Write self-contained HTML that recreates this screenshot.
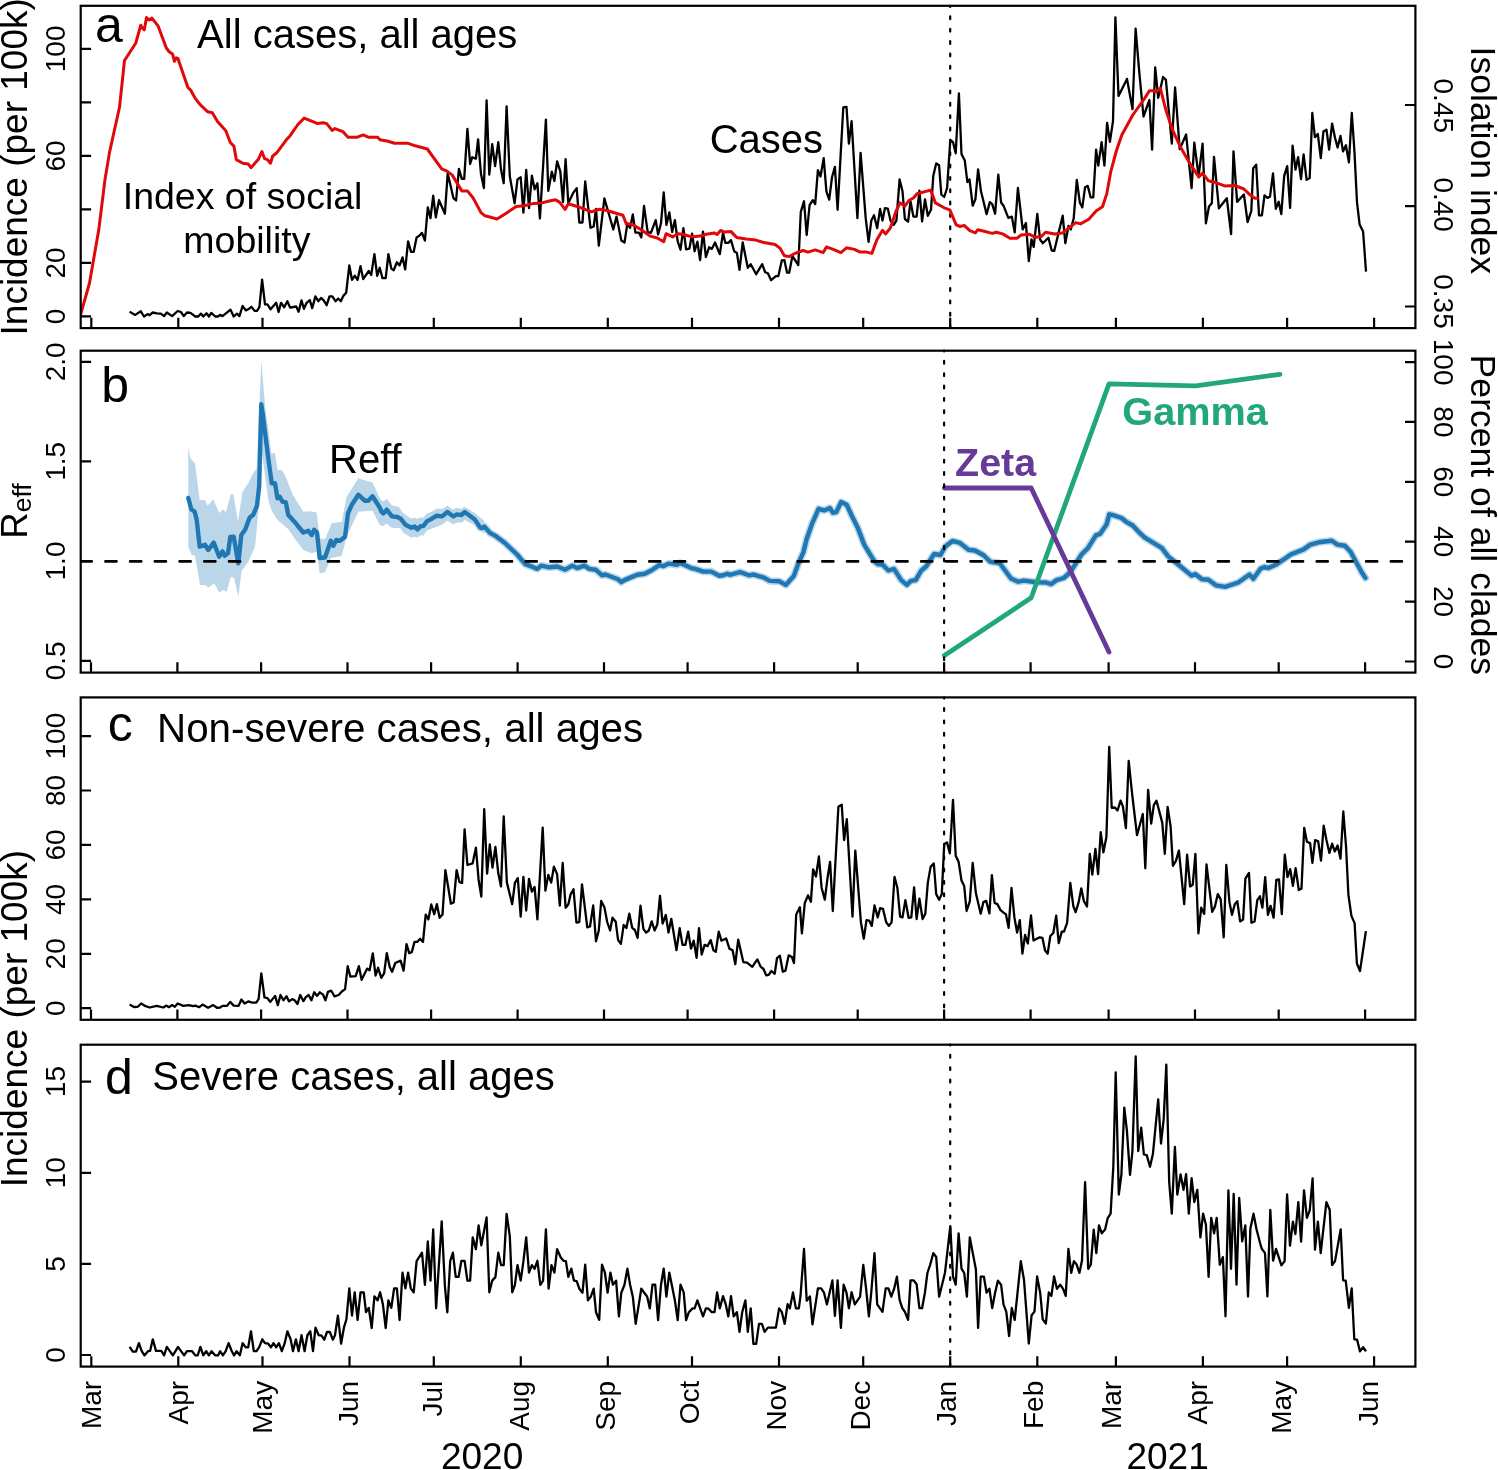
<!DOCTYPE html>
<html><head><meta charset="utf-8"><style>
html,body{margin:0;padding:0;background:#fff;}
svg{display:block;will-change:transform;}
text{font-family:"Liberation Sans", sans-serif;}
</style></head><body>
<svg width="1498" height="1470" viewBox="0 0 1498 1470" font-family='"Liberation Sans", sans-serif'>
<rect width="1498" height="1470" fill="#fff"/>
<defs>
<clipPath id="clipa"><rect x="80.7" y="5.8" width="1334.7" height="322.3"/></clipPath>
<clipPath id="clipb"><rect x="80.7" y="350.7" width="1334.7" height="321.90000000000003"/></clipPath>
<clipPath id="clipc"><rect x="80.7" y="697.4" width="1334.7" height="322.4"/></clipPath>
<clipPath id="clipd"><rect x="80.7" y="1044.7" width="1334.7" height="321.89999999999986"/></clipPath>
</defs>
<g clip-path="url(#clipb)">
<path d="M188.3,445.8 L190.3,458.3 L195.0,463.3 L199.7,500.0 L205.0,500.0 L207.5,505.8 L213.3,499.2 L219.2,513.0 L223.3,509.2 L225.8,512.5 L230.8,494.2 L233.3,494.2 L238.0,521.7 L242.5,491.7 L248.3,483.3 L251.7,475.8 L256.7,468.3 L261.3,360.0 L265.0,405.0 L271.3,453.3 L275.0,453.3 L277.5,470.0 L281.7,470.0 L285.0,475.0 L292.5,494.2 L303.3,511.7 L310.0,511.3 L316.7,512.5 L319.7,538.3 L325.0,539.2 L331.7,523.3 L341.7,521.7 L346.7,496.7 L358.3,478.3 L372.5,482.5 L380.0,498.7 L383.3,501.4 L386.7,498.7 L392.0,505.4 L398.7,506.7 L402.7,512.7 L411.4,518.7 L414.7,517.7 L417.4,519.1 L420.1,517.4 L423.4,517.4 L426.7,513.4 L432.1,511.4 L436.7,508.7 L442.7,508.7 L447.4,505.7 L452.8,509.4 L456.1,508.0 L461.4,508.7 L464.8,506.7 L474.8,513.0 L480.1,517.4 L484.0,520.5 L484.0,534.0 L480.1,530.1 L474.8,525.4 L464.8,520.1 L462.1,522.4 L456.8,522.4 L453.4,524.4 L447.4,520.7 L442.1,524.7 L433.4,528.1 L426.7,530.7 L423.4,535.4 L420.1,535.4 L417.4,537.7 L414.7,536.7 L411.4,537.7 L403.4,532.7 L400.0,528.1 L392.0,528.1 L386.7,523.4 L383.3,526.1 L380.0,525.4 L372.5,510.8 L358.3,511.7 L346.7,536.7 L341.7,555.8 L330.8,558.3 L325.0,572.5 L319.7,573.3 L316.7,551.7 L311.7,553.3 L303.3,550.0 L295.8,540.0 L288.3,529.2 L277.5,520.0 L271.7,510.8 L268.3,500.0 L263.3,463.3 L261.3,448.3 L259.2,503.3 L255.0,546.7 L248.3,561.7 L241.7,570.8 L238.3,596.7 L234.2,578.3 L230.8,576.7 L226.7,591.7 L223.3,590.0 L219.2,592.5 L214.2,583.3 L208.3,587.5 L205.0,585.0 L200.0,585.0 L195.0,555.8 L191.7,555.0 L188.3,546.7Z" fill="#bcd6e9" stroke="none"/>
<path d="M474.8,519.4 L480.1,527.4 L481.9,528.1 L484.3,526.5 L489.9,532.9 L496.3,536.4 L504.3,542.5 L517.1,554.5 L525.2,564.1 L531.6,566.5 L537.2,568.9 L541.2,565.7 L549.2,567.3 L557.2,566.5 L565.2,569.7 L572.4,565.7 L577.2,568.1 L584.4,565.7 L589.2,568.9 L595.6,569.7 L602.1,575.3 L605.3,574.5 L618.1,579.3 L621.3,582.2 L624.5,580.1 L630.9,577.4 L637.3,574.8 L644.8,573.7 L651.2,570.5 L659.2,565.2 L663.2,566.2 L668.8,563.6 L676.8,564.9 L680.1,563.0 L691.3,568.1 L695.3,568.9 L703.3,571.6 L711.3,571.6 L719.3,575.8 L723.3,575.3 L727.3,573.7 L729.7,574.8 L740.1,572.1 L748.9,575.3 L753.7,574.5 L758.6,576.1 L763.4,577.4 L769.8,580.9 L779.4,581.3 L785.8,584.9 L793.8,576.1 L797.8,564.9 L803.4,552.1 L806.6,539.3 L812.2,523.3 L818.6,508.8 L824.2,510.4 L829.8,508.0 L833.0,512.8 L836.3,512.0 L841.1,502.1 L846.7,504.8 L852.3,516.8 L857.9,528.1 L864.3,544.9 L870.7,555.3 L874.7,561.7 L878.0,564.1 L882.8,564.9 L888.4,570.5 L894.0,568.9 L901.2,580.1 L906.8,584.9 L910.9,580.9 L915.7,580.1 L921.3,570.5 L926.1,566.5 L934.1,554.0 L940.5,555.0 L945.3,546.5 L952.5,540.9 L959.7,542.8 L968.5,549.7 L974.9,550.5 L983.7,555.3 L990.2,561.7 L999.8,563.3 L1011.0,578.5 L1018.2,581.7 L1023.8,580.6 L1036.6,582.2 L1046.2,582.5 L1051.0,584.1 L1056.6,580.1 L1063.8,578.0 L1070.3,572.1 L1081.5,554.5 L1087.9,548.1 L1095.9,535.3 L1100.0,533.9 L1106.5,524.6 L1109.3,514.3 L1113.1,515.2 L1121.5,518.0 L1126.2,521.8 L1132.7,525.5 L1140.2,533.4 L1144.9,537.7 L1154.2,543.3 L1161.7,547.9 L1168.2,556.4 L1178.5,564.8 L1191.6,575.6 L1195.3,574.1 L1201.9,579.3 L1208.4,579.7 L1215.9,585.3 L1225.2,586.8 L1238.3,582.5 L1249.5,574.5 L1253.3,578.8 L1260.7,568.5 L1264.5,567.0 L1268.2,568.1 L1275.7,564.8 L1284.1,559.2 L1290.7,554.5 L1303.7,549.4 L1310.3,544.6 L1318.7,542.3 L1331.8,540.8 L1337.4,544.6 L1344.9,545.7 L1350.5,551.7 L1361.7,572.2 L1365.4,577.9" fill="none" stroke="#bcd6e9" stroke-width="7.5" stroke-linejoin="round" stroke-linecap="round"/>
<path d="M188.3,498.0 L191.3,509.2 L194.7,511.7 L196.7,520.0 L199.7,546.7 L205.0,544.7 L208.3,550.0 L213.7,542.5 L219.2,556.7 L222.5,551.3 L224.7,555.8 L228.0,553.3 L230.3,537.0 L233.7,536.7 L238.3,563.3 L241.3,535.0 L245.0,530.0 L249.7,517.5 L253.3,514.7 L257.0,505.8 L259.2,485.8 L261.3,404.2 L263.3,418.3 L268.3,458.3 L271.7,483.3 L275.0,483.3 L277.5,498.3 L279.7,496.7 L282.5,501.7 L285.8,502.5 L288.3,515.0 L295.8,523.3 L303.3,532.5 L308.3,530.8 L311.7,535.0 L314.2,529.7 L317.0,532.5 L319.7,558.0 L325.0,557.5 L330.8,540.8 L333.3,545.8 L336.3,540.0 L340.0,540.8 L345.0,536.7 L348.0,513.3 L351.7,505.0 L358.3,494.7 L365.0,500.8 L368.3,500.8 L372.5,496.3 L380.0,508.0 L381.3,511.4 L383.3,513.4 L386.7,509.7 L392.0,516.4 L397.4,517.0 L400.7,518.7 L405.4,524.7 L411.4,527.7 L414.4,526.4 L417.4,529.4 L420.7,526.1 L423.4,526.1 L426.7,521.4 L430.7,519.4 L436.7,515.7 L442.1,516.4 L447.4,512.0 L453.4,516.4 L456.8,514.4 L461.4,515.0 L464.8,512.0 L474.8,519.4 L480.1,527.4 L481.9,528.1 L484.3,526.5 L489.9,532.9 L496.3,536.4 L504.3,542.5 L517.1,554.5 L525.2,564.1 L531.6,566.5 L537.2,568.9 L541.2,565.7 L549.2,567.3 L557.2,566.5 L565.2,569.7 L572.4,565.7 L577.2,568.1 L584.4,565.7 L589.2,568.9 L595.6,569.7 L602.1,575.3 L605.3,574.5 L618.1,579.3 L621.3,582.2 L624.5,580.1 L630.9,577.4 L637.3,574.8 L644.8,573.7 L651.2,570.5 L659.2,565.2 L663.2,566.2 L668.8,563.6 L676.8,564.9 L680.1,563.0 L691.3,568.1 L695.3,568.9 L703.3,571.6 L711.3,571.6 L719.3,575.8 L723.3,575.3 L727.3,573.7 L729.7,574.8 L740.1,572.1 L748.9,575.3 L753.7,574.5 L758.6,576.1 L763.4,577.4 L769.8,580.9 L779.4,581.3 L785.8,584.9 L793.8,576.1 L797.8,564.9 L803.4,552.1 L806.6,539.3 L812.2,523.3 L818.6,508.8 L824.2,510.4 L829.8,508.0 L833.0,512.8 L836.3,512.0 L841.1,502.1 L846.7,504.8 L852.3,516.8 L857.9,528.1 L864.3,544.9 L870.7,555.3 L874.7,561.7 L878.0,564.1 L882.8,564.9 L888.4,570.5 L894.0,568.9 L901.2,580.1 L906.8,584.9 L910.9,580.9 L915.7,580.1 L921.3,570.5 L926.1,566.5 L934.1,554.0 L940.5,555.0 L945.3,546.5 L952.5,540.9 L959.7,542.8 L968.5,549.7 L974.9,550.5 L983.7,555.3 L990.2,561.7 L999.8,563.3 L1011.0,578.5 L1018.2,581.7 L1023.8,580.6 L1036.6,582.2 L1046.2,582.5 L1051.0,584.1 L1056.6,580.1 L1063.8,578.0 L1070.3,572.1 L1081.5,554.5 L1087.9,548.1 L1095.9,535.3 L1100.0,533.9 L1106.5,524.6 L1109.3,514.3 L1113.1,515.2 L1121.5,518.0 L1126.2,521.8 L1132.7,525.5 L1140.2,533.4 L1144.9,537.7 L1154.2,543.3 L1161.7,547.9 L1168.2,556.4 L1178.5,564.8 L1191.6,575.6 L1195.3,574.1 L1201.9,579.3 L1208.4,579.7 L1215.9,585.3 L1225.2,586.8 L1238.3,582.5 L1249.5,574.5 L1253.3,578.8 L1260.7,568.5 L1264.5,567.0 L1268.2,568.1 L1275.7,564.8 L1284.1,559.2 L1290.7,554.5 L1303.7,549.4 L1310.3,544.6 L1318.7,542.3 L1331.8,540.8 L1337.4,544.6 L1344.9,545.7 L1350.5,551.7 L1361.7,572.2 L1365.4,577.9" fill="none" stroke="#1f77b4" stroke-width="4.4" stroke-linejoin="round" stroke-linecap="round"/>
<line x1="80.7" y1="561.4" x2="1415.4" y2="561.4" stroke="#000" stroke-width="2.6" stroke-dasharray="11.1 13.62" stroke-linecap="round" stroke-dashoffset="0"/>
<path d="M944.4,655.4 L1031.2,597.8 L1109.0,383.9 L1195.7,385.9 L1280.0,374.3" fill="none" stroke="#22a77a" stroke-width="4.8" stroke-linejoin="round" stroke-linecap="round"/>
<path d="M944.4,488.0 L1031.2,488.0 L1109.0,652.0" fill="none" stroke="#653a98" stroke-width="4.8" stroke-linejoin="round" stroke-linecap="round"/>
</g>
<line x1="950.2" y1="328.1" x2="950.2" y2="5.8" stroke="#000" stroke-width="2.2" stroke-dasharray="2.8 9.55" stroke-linecap="round" stroke-dashoffset="-0.1"/>
<line x1="944.1" y1="672.6" x2="944.1" y2="350.7" stroke="#000" stroke-width="2.2" stroke-dasharray="2.8 9.55" stroke-linecap="round" stroke-dashoffset="-0.1"/>
<line x1="944.1" y1="1019.8" x2="944.1" y2="697.4" stroke="#000" stroke-width="2.2" stroke-dasharray="2.8 9.55" stroke-linecap="round" stroke-dashoffset="-0.1"/>
<line x1="950.2" y1="1366.6" x2="950.2" y2="1044.7" stroke="#000" stroke-width="2.2" stroke-dasharray="2.8 9.55" stroke-linecap="round" stroke-dashoffset="-0.1"/>
<g clip-path="url(#clipa)"><path d="M129.6,311.7 L135.2,314.9 L140.8,311.3 L144.0,316.5 L148.0,314.1 L149.6,315.2 L152.8,312.5 L156.8,313.3 L160.9,313.6 L164.1,316.1 L166.8,312.5 L172.1,316.1 L177.7,311.0 L180.9,312.0 L183.8,316.1 L187.0,312.5 L190.5,312.9 L195.3,316.5 L198.2,316.5 L200.9,313.6 L203.3,316.5 L206.5,313.3 L208.9,316.5 L211.3,312.9 L215.3,316.5 L218.0,316.5 L220.1,314.9 L222.5,316.1 L226.5,312.9 L230.5,309.7 L233.7,316.5 L237.0,313.6 L239.4,316.1 L242.6,306.0 L245.8,310.4 L248.2,309.3 L251.4,306.8 L254.6,310.9 L257.0,310.9 L259.4,307.2 L262.1,279.6 L265.0,304.4 L267.4,304.4 L270.6,309.3 L276.2,302.8 L278.6,312.0 L281.0,302.8 L284.2,307.2 L287.4,301.2 L290.1,307.6 L296.2,306.5 L298.6,311.7 L301.5,300.4 L303.9,308.8 L306.6,302.8 L309.8,300.1 L312.2,308.1 L315.4,296.4 L318.3,301.2 L321.1,297.9 L323.5,300.1 L326.7,305.2 L329.5,296.4 L332.3,296.4 L335.5,301.2 L338.2,298.5 L340.8,301.2 L343.5,295.6 L346.2,292.7 L349.3,265.4 L352.0,279.8 L354.7,275.8 L357.6,279.8 L360.5,266.2 L363.2,279.0 L368.8,271.0 L371.2,275.0 L374.4,254.2 L377.2,275.8 L379.7,267.8 L382.5,278.2 L385.7,278.2 L388.4,254.2 L391.3,268.6 L393.7,270.2 L396.9,262.2 L399.6,265.4 L402.5,257.4 L405.2,269.4 L408.1,241.4 L411.0,251.8 L413.7,251.8 L416.6,237.4 L419.3,235.8 L422.0,232.9 L424.9,240.6 L427.8,207.3 L430.5,218.2 L433.2,195.7 L435.8,217.4 L439.0,200.2 L444.9,213.7 L447.7,173.3 L453.4,198.1 L456.1,200.5 L458.9,168.8 L461.8,178.9 L464.2,178.9 L467.4,128.8 L470.1,164.0 L472.2,157.3 L475.9,158.6 L478.1,139.3 L481.0,174.1 L483.9,188.0 L486.6,100.4 L489.3,174.6 L492.2,144.1 L495.1,166.1 L498.3,142.1 L501.0,169.3 L503.7,183.2 L506.6,106.3 L509.8,176.2 L514.6,203.4 L517.5,179.4 L520.7,177.3 L523.4,212.6 L526.2,169.8 L529.0,208.2 L531.9,175.7 L534.6,189.3 L537.4,183.2 L539.9,218.5 L545.9,119.6 L548.3,190.9 L551.8,171.7 L554.4,181.0 L557.1,161.3 L560.3,171.4 L563.0,202.1 L565.6,159.2 L568.3,202.9 L573.2,192.9 L576.7,188.1 L579.3,222.5 L582.5,222.5 L585.2,181.3 L590.5,227.8 L593.7,226.5 L596.0,208.9 L598.8,245.7 L604.4,198.5 L613.3,229.4 L616.5,216.6 L621.3,240.6 L624.5,242.5 L627.4,223.3 L630.1,227.8 L632.8,214.5 L635.4,232.6 L638.9,232.6 L641.3,237.4 L644.0,206.0 L647.7,232.1 L650.9,232.9 L655.7,220.1 L658.1,234.5 L661.0,223.3 L663.7,192.5 L666.4,224.9 L669.3,212.4 L672.2,232.1 L674.9,220.1 L677.7,241.3 L680.5,249.7 L683.4,228.1 L686.1,249.3 L689.4,248.6 L692.1,233.7 L694.6,251.3 L697.4,241.7 L700.1,260.2 L703.0,231.6 L705.9,257.0 L709.1,247.3 L711.8,248.9 L715.0,242.5 L719.8,254.1 L723.0,232.9 L725.4,242.9 L728.3,242.9 L731.0,240.1 L734.2,251.3 L736.9,252.9 L739.5,269.8 L742.7,242.5 L747.8,267.8 L750.7,264.2 L756.2,274.2 L762.2,264.2 L765.1,272.2 L767.9,273.3 L771.1,280.2 L775.9,276.2 L778.3,276.2 L781.8,260.5 L784.4,260.2 L787.1,272.7 L789.2,272.7 L792.4,256.1 L798.3,265.0 L800.8,211.8 L804.0,201.3 L806.7,235.0 L809.6,205.0 L812.8,200.2 L815.2,204.1 L817.9,170.1 L820.5,176.5 L823.7,158.1 L826.4,191.3 L829.2,199.7 L832.0,177.3 L834.9,166.9 L837.6,209.8 L843.3,107.3 L846.5,106.8 L848.9,143.7 L851.6,121.2 L857.4,218.2 L860.6,152.8 L865.7,218.2 L868.6,241.9 L871.3,220.6 L874.0,215.3 L877.2,228.1 L880.1,208.9 L882.5,220.6 L884.9,208.2 L887.8,208.6 L890.5,220.6 L893.7,224.9 L896.4,220.6 L899.6,179.4 L902.5,191.3 L904.9,219.0 L908.1,221.7 L910.5,201.3 L913.4,216.6 L916.6,216.6 L919.4,190.6 L922.1,221.4 L925.0,199.3 L927.8,215.8 L931.0,209.8 L933.3,175.7 L936.2,163.4 L939.1,165.3 L941.3,194.5 L944.2,197.0 L947.1,188.0 L950.3,140.0 L953.0,142.1 L955.7,153.3 L958.9,93.5 L961.5,154.1 L964.7,160.2 L967.4,182.1 L969.5,179.4 L972.7,205.7 L975.4,199.3 L978.1,169.3 L981.0,191.3 L986.6,214.2 L989.8,202.1 L992.2,204.1 L995.1,213.7 L998.3,174.6 L1001.1,202.5 L1003.5,205.7 L1008.3,217.8 L1011.8,216.6 L1014.7,232.3 L1017.9,188.0 L1022.7,229.4 L1025.9,223.0 L1028.8,261.1 L1031.5,239.3 L1033.7,246.9 L1037.3,213.8 L1040.1,239.5 L1042.9,243.2 L1048.4,237.7 L1051.7,250.5 L1054.2,250.9 L1062.7,215.7 L1065.3,243.2 L1068.6,225.8 L1070.8,229.4 L1073.7,218.4 L1076.8,179.9 L1079.9,202.8 L1082.3,207.4 L1085.1,187.2 L1087.8,185.9 L1090.6,197.3 L1093.3,197.3 L1096.1,149.6 L1098.3,165.7 L1101.6,142.2 L1104.4,165.7 L1107.1,122.9 L1109.9,141.8 L1113.0,121.1 L1115.4,17.3 L1118.5,95.9 L1127.0,78.9 L1132.5,109.2 L1135.6,28.7 L1139.3,72.4 L1143.5,116.5 L1149.4,100.0 L1152.1,149.6 L1155.2,67.3 L1158.2,97.8 L1163.1,77.0 L1165.9,79.8 L1171.8,143.7 L1175.1,87.5 L1179.7,149.2 L1186.1,134.5 L1191.6,188.1 L1194.3,142.6 L1198.6,176.2 L1202.6,143.7 L1205.9,223.4 L1209.0,206.5 L1211.8,203.2 L1214.0,156.9 L1218.9,208.3 L1226.8,198.2 L1231.1,234.0 L1233.5,151.4 L1237.1,201.9 L1243.9,194.5 L1247.6,222.1 L1251.3,210.8 L1253.2,168.2 L1256.2,164.7 L1259.0,215.4 L1261.9,215.4 L1264.5,195.3 L1267.4,197.9 L1270.0,196.6 L1273.0,173.4 L1275.8,208.9 L1278.7,201.8 L1281.3,214.1 L1284.2,175.9 L1287.2,166.2 L1290.1,207.9 L1292.6,145.6 L1295.5,169.5 L1298.1,157.2 L1301.0,179.2 L1303.6,154.4 L1306.6,179.8 L1309.7,177.9 L1312.3,113.0 L1314.9,137.2 L1317.8,133.9 L1320.8,158.2 L1323.4,131.6 L1326.5,129.8 L1329.1,149.7 L1332.1,123.6 L1335.0,137.8 L1337.6,147.5 L1340.5,135.9 L1343.0,151.4 L1345.9,145.3 L1348.9,162.4 L1351.8,113.0 L1354.4,150.7 L1357.0,202.4 L1359.6,224.4 L1363.1,231.5 L1366.0,271.6" fill="none" stroke="#000" stroke-width="2.3" stroke-linejoin="round"/>
<path d="M80.1,316.4 L89.5,283.0 L98.8,229.6 L105.0,179.4 L109.5,152.4 L119.5,107.3 L124.5,60.5 L135.7,43.3 L140.7,25.3 L142.0,27.7 L144.3,29.8 L146.5,17.6 L149.2,19.9 L151.9,18.1 L158.2,26.2 L166.3,47.9 L169.0,51.5 L172.6,54.2 L174.4,61.4 L176.2,57.8 L178.0,58.7 L187.9,87.5 L190.7,90.2 L195.2,98.3 L200.6,105.2 L207.8,111.8 L212.3,112.7 L217.7,121.8 L225.8,130.8 L230.3,142.5 L233.9,146.1 L236.3,159.6 L242.9,163.2 L248.3,164.1 L251.0,167.7 L258.2,159.6 L261.9,151.5 L264.6,158.7 L267.3,159.6 L270.5,163.2 L272.7,156.0 L276.3,153.3 L287.1,138.9 L289.8,136.2 L297.9,124.5 L304.2,118.1 L317.7,123.6 L323.1,122.7 L326.7,123.6 L332.1,130.4 L334.9,128.6 L343.0,131.7 L348.0,137.3 L356.8,137.3 L363.2,134.9 L368.8,137.3 L377.6,137.3 L380.0,139.7 L388.1,141.3 L394.5,143.3 L408.1,143.3 L415.3,145.8 L427.3,149.0 L441.7,168.8 L446.5,170.9 L452.1,174.9 L461.8,190.9 L467.4,190.9 L473.0,197.7 L481.0,212.6 L485.0,215.8 L497.0,219.0 L506.6,213.0 L516.2,206.6 L524.2,205.7 L533.8,203.4 L541.9,202.9 L548.3,201.3 L555.5,199.7 L559.5,202.1 L565.1,209.4 L568.3,203.7 L579.6,207.3 L591.6,211.8 L599.6,209.2 L606.8,210.5 L622.9,215.3 L626.4,224.1 L631.7,224.1 L641.3,229.7 L650.1,236.1 L657.3,238.0 L663.7,241.7 L666.1,233.7 L672.5,236.9 L678.1,233.7 L683.7,234.5 L691.8,236.9 L699.8,236.1 L706.2,234.2 L714.2,232.9 L717.1,234.5 L720.6,230.5 L724.6,232.1 L731.0,231.6 L736.6,237.4 L746.2,239.0 L755.8,240.1 L763.8,242.5 L775.1,244.5 L779.9,248.1 L784.4,255.7 L789.2,256.6 L794.3,253.7 L803.1,250.5 L808.0,252.1 L815.2,249.9 L823.2,252.6 L826.4,247.0 L832.0,248.9 L840.9,252.6 L846.5,247.8 L854.5,249.4 L860.1,252.1 L866.5,252.1 L871.8,253.4 L876.9,239.8 L882.5,230.2 L885.7,233.9 L890.5,227.8 L896.1,211.0 L900.1,202.9 L904.9,206.1 L908.9,200.5 L913.7,197.7 L917.0,193.8 L930.6,190.1 L935.4,202.9 L945.0,208.2 L949.8,209.8 L956.2,224.9 L960.2,226.5 L964.2,225.4 L969.8,230.7 L975.4,232.9 L977.8,229.7 L984.2,231.3 L992.2,233.4 L996.2,232.3 L1002.7,233.9 L1009.9,238.2 L1017.1,238.2 L1021.1,235.0 L1029.1,234.2 L1035.5,237.3 L1041.0,236.8 L1045.6,232.2 L1054.8,234.0 L1062.1,233.1 L1075.9,222.6 L1080.5,223.9 L1088.8,219.3 L1096.1,211.1 L1102.5,206.8 L1106.8,193.6 L1110.8,171.6 L1116.3,151.0 L1121.8,134.9 L1132.8,115.0 L1144.8,98.1 L1149.4,90.8 L1153.0,90.8 L1155.8,91.7 L1160.4,88.6 L1165.9,110.1 L1172.3,129.4 L1180.6,147.3 L1189.8,163.3 L1198.9,177.1 L1202.6,173.1 L1208.5,180.8 L1214.5,182.2 L1224.6,185.9 L1234.7,185.4 L1243.9,189.0 L1250.3,195.1 L1254.9,198.2 L1257.3,198.2" fill="none" stroke="#e1080a" stroke-width="3.0" stroke-linejoin="round" stroke-linecap="round"/></g>
<g clip-path="url(#clipc)"><path d="M129.6,1004.6 L134.4,1007.2 L137.9,1006.7 L141.1,1003.5 L145.6,1006.2 L149.6,1007.5 L156.8,1005.9 L163.3,1007.5 L166.5,1005.6 L168.9,1007.2 L172.1,1005.1 L174.8,1006.7 L177.7,1003.5 L183.3,1005.9 L188.9,1005.1 L192.9,1006.2 L195.3,1005.6 L199.3,1007.2 L202.5,1004.6 L208.1,1007.8 L213.2,1005.1 L216.9,1007.8 L220.1,1007.5 L222.5,1005.9 L227.0,1005.9 L230.2,1001.9 L233.7,1005.6 L238.6,1005.9 L241.4,999.5 L244.6,1003.5 L248.2,1001.4 L252.2,1002.7 L256.2,1002.7 L258.6,999.1 L261.3,973.5 L264.5,997.5 L267.4,998.2 L270.3,1001.9 L275.1,995.9 L277.8,1005.1 L280.5,995.0 L283.4,1000.3 L286.6,996.3 L289.0,1001.4 L292.2,999.1 L294.6,1000.3 L297.5,1004.0 L300.2,995.0 L303.4,1001.1 L305.8,997.1 L308.7,995.0 L311.4,1000.3 L314.2,992.3 L317.0,995.9 L319.9,992.3 L323.1,994.7 L325.4,1000.3 L328.0,991.8 L331.2,990.7 L334.4,996.3 L338.7,995.0 L341.9,991.5 L345.1,989.1 L347.7,966.2 L350.4,976.6 L355.7,976.2 L358.9,966.2 L361.6,979.8 L367.2,968.6 L369.6,970.2 L372.8,953.4 L375.6,975.5 L378.1,967.8 L381.3,977.8 L384.1,973.4 L386.8,953.1 L389.7,967.0 L392.1,971.8 L395.3,963.0 L400.6,960.6 L403.6,970.7 L406.5,944.1 L409.2,953.1 L411.8,952.1 L414.5,941.9 L417.2,941.9 L420.1,938.7 L423.0,941.9 L425.7,914.6 L428.4,919.4 L431.3,904.5 L434.2,914.2 L436.9,904.1 L439.6,917.8 L442.5,914.6 L445.4,870.1 L450.9,903.7 L453.7,902.5 L456.6,870.1 L459.4,882.1 L462.1,882.9 L464.6,829.3 L467.4,865.0 L472.6,863.4 L475.9,847.7 L478.6,879.7 L481.3,896.5 L484.2,809.2 L487.1,873.6 L489.8,844.5 L492.5,867.7 L495.4,846.9 L498.3,873.3 L501.0,886.4 L503.7,816.4 L506.9,882.6 L512.2,904.1 L514.9,882.9 L517.8,878.1 L520.7,916.6 L523.4,876.8 L526.2,910.5 L529.0,878.9 L531.9,891.7 L534.6,886.9 L537.4,919.4 L542.7,827.6 L545.4,890.6 L548.3,874.9 L551.2,882.6 L553.9,866.6 L557.1,874.1 L559.8,905.7 L562.7,862.9 L565.6,907.8 L568.3,904.5 L570.7,894.1 L573.5,889.3 L576.4,922.5 L579.3,922.0 L582.0,884.5 L587.3,927.3 L590.0,926.5 L593.2,905.4 L596.0,941.3 L598.8,930.5 L601.2,900.9 L604.4,907.3 L607.2,922.0 L610.1,930.5 L612.5,917.7 L615.7,921.7 L618.1,940.1 L620.9,943.8 L623.7,924.9 L626.4,928.1 L629.3,913.7 L632.2,927.8 L634.9,930.0 L637.6,938.0 L640.5,905.7 L643.4,928.9 L646.1,932.6 L648.8,930.5 L651.7,921.4 L654.6,930.5 L657.3,924.6 L660.0,895.8 L662.6,923.6 L665.8,915.0 L668.5,932.6 L671.3,918.8 L676.5,950.2 L679.7,928.1 L682.5,944.9 L685.3,944.9 L688.2,931.6 L691.0,948.6 L693.7,940.6 L696.6,957.8 L699.0,928.1 L701.7,954.5 L704.6,944.9 L707.5,946.1 L710.7,940.1 L713.4,950.2 L715.8,951.8 L718.7,931.6 L721.4,940.6 L726.2,938.5 L729.4,948.6 L732.6,950.2 L735.3,964.2 L738.2,939.6 L743.3,962.1 L747.0,962.6 L752.3,966.9 L757.4,959.4 L760.6,966.6 L763.5,969.0 L766.2,975.4 L768.7,974.9 L771.5,971.0 L774.7,973.8 L777.0,958.2 L779.9,955.7 L782.8,971.7 L785.5,970.6 L788.7,955.3 L791.9,957.0 L794.0,963.0 L796.2,914.5 L799.9,907.3 L801.9,933.4 L804.8,903.0 L808.0,895.4 L810.9,901.8 L813.1,869.3 L816.0,876.5 L818.9,856.5 L821.6,887.7 L824.8,899.7 L827.6,877.3 L830.1,861.8 L832.8,911.0 L838.4,806.8 L841.7,804.7 L844.1,840.0 L846.8,819.2 L852.5,916.6 L855.3,850.6 L860.9,922.2 L863.8,938.7 L866.5,920.1 L869.2,920.6 L871.8,925.9 L874.5,905.3 L877.7,917.4 L880.1,908.2 L883.0,908.9 L886.2,922.2 L888.9,925.9 L891.6,922.2 L894.5,876.8 L897.4,888.0 L900.1,916.6 L902.5,917.4 L905.4,900.2 L908.6,917.8 L911.3,917.4 L914.1,887.4 L916.6,919.0 L919.4,898.6 L922.6,919.0 L925.3,913.7 L927.8,882.9 L930.6,866.9 L933.8,863.4 L936.2,894.1 L939.1,899.7 L941.8,894.1 L944.2,844.1 L947.1,842.5 L949.8,853.3 L953.0,799.9 L955.7,855.7 L958.6,861.8 L961.5,880.5 L964.2,886.1 L966.6,911.0 L969.8,901.3 L972.7,862.9 L975.9,893.3 L980.7,913.7 L983.4,902.1 L986.2,900.9 L989.4,913.4 L991.9,875.2 L994.6,903.0 L997.4,904.1 L1000.6,910.2 L1003.5,912.6 L1005.9,914.2 L1008.6,927.8 L1011.5,888.0 L1014.4,917.4 L1017.1,932.6 L1019.8,920.1 L1022.4,953.7 L1025.1,935.0 L1027.8,943.5 L1031.0,915.3 L1033.5,940.5 L1039.7,937.3 L1042.4,937.8 L1045.0,950.2 L1047.7,953.7 L1050.3,936.0 L1053.3,933.0 L1056.2,915.7 L1058.7,943.1 L1061.8,931.6 L1064.0,931.6 L1067.1,922.8 L1070.3,883.0 L1073.3,906.0 L1075.6,912.2 L1078.6,902.4 L1081.3,888.3 L1083.9,901.2 L1087.0,906.5 L1089.8,853.8 L1092.3,874.7 L1095.4,848.9 L1098.1,874.1 L1100.7,832.2 L1103.4,852.4 L1106.4,837.0 L1109.2,746.8 L1111.7,807.8 L1114.9,807.5 L1117.5,810.5 L1120.6,800.7 L1122.9,806.4 L1125.9,828.2 L1128.7,761.0 L1132.2,794.6 L1137.0,835.2 L1142.8,814.0 L1145.3,868.3 L1148.1,789.8 L1151.2,823.7 L1153.8,805.2 L1156.5,800.7 L1162.3,822.9 L1164.8,853.8 L1167.6,806.9 L1170.6,826.4 L1172.9,865.8 L1175.9,860.9 L1178.9,850.6 L1184.2,904.2 L1187.1,854.7 L1190.1,886.5 L1192.7,884.8 L1195.4,853.8 L1198.4,933.4 L1201.2,907.7 L1204.2,913.9 L1206.5,864.4 L1212.2,911.8 L1214.8,906.9 L1217.8,894.1 L1220.7,899.4 L1223.7,937.3 L1226.3,864.8 L1229.5,902.4 L1232.0,914.8 L1234.8,904.2 L1237.3,901.2 L1240.1,921.4 L1243.1,919.6 L1245.4,878.6 L1249.0,872.9 L1251.4,922.8 L1254.6,921.4 L1257.3,900.1 L1259.9,896.3 L1262.4,907.7 L1265.2,877.1 L1267.9,914.9 L1270.6,905.9 L1273.6,917.6 L1276.3,879.8 L1279.0,879.5 L1281.8,914.1 L1284.8,854.6 L1287.5,877.1 L1290.2,869.2 L1292.9,885.9 L1295.6,868.2 L1298.8,890.0 L1301.5,888.6 L1304.2,827.8 L1306.9,841.7 L1310.1,843.1 L1312.4,862.8 L1315.1,840.1 L1318.2,841.4 L1321.0,860.7 L1323.7,825.6 L1326.4,839.7 L1329.4,852.9 L1332.1,843.7 L1334.8,851.5 L1337.6,845.5 L1340.5,858.7 L1343.3,811.5 L1346.0,845.8 L1348.4,894.8 L1351.4,915.9 L1354.6,923.1 L1356.9,963.5 L1360.0,971.0 L1365.9,931.2" fill="none" stroke="#000" stroke-width="2.3" stroke-linejoin="round"/></g>
<g clip-path="url(#clipd)"><path d="M129.6,1346.9 L132.8,1351.7 L136.0,1351.7 L138.9,1343.2 L141.6,1350.9 L144.4,1355.4 L148.0,1351.2 L150.1,1350.9 L152.8,1339.3 L156.0,1350.9 L161.3,1350.9 L164.1,1355.4 L166.8,1346.9 L172.9,1355.4 L178.0,1346.9 L184.1,1355.4 L187.0,1351.2 L192.1,1351.2 L195.3,1355.4 L197.7,1355.4 L200.4,1346.9 L203.3,1355.4 L206.2,1351.2 L208.9,1355.4 L211.6,1351.2 L215.3,1355.4 L218.0,1355.4 L220.1,1351.2 L222.9,1355.4 L225.7,1351.2 L228.6,1343.2 L231.8,1351.2 L234.1,1355.4 L236.6,1351.2 L239.8,1355.4 L242.6,1343.2 L245.8,1347.4 L248.2,1347.4 L251.0,1331.3 L253.8,1351.2 L256.5,1351.2 L259.1,1347.4 L262.3,1339.3 L265.0,1343.2 L268.2,1343.7 L270.9,1347.4 L273.5,1343.2 L276.2,1347.4 L278.9,1343.2 L281.8,1351.2 L284.7,1343.2 L287.4,1331.3 L290.6,1339.3 L293.0,1351.2 L295.9,1339.3 L298.6,1351.2 L301.5,1335.2 L304.6,1351.2 L307.4,1335.2 L310.3,1331.3 L313.0,1351.2 L315.5,1327.6 L318.7,1335.2 L321.5,1335.7 L324.3,1339.7 L327.0,1332.0 L329.9,1332.0 L332.8,1339.7 L335.0,1335.2 L337.9,1315.6 L341.1,1343.7 L344.0,1327.2 L346.4,1319.5 L349.3,1288.3 L352.0,1315.5 L354.7,1292.3 L357.6,1320.0 L360.5,1292.3 L363.7,1292.3 L366.0,1312.0 L368.8,1307.9 L371.7,1328.0 L374.4,1296.3 L377.6,1300.3 L380.1,1292.3 L382.9,1304.3 L385.7,1328.0 L388.4,1300.3 L391.3,1307.9 L394.1,1288.3 L396.9,1288.3 L399.6,1320.0 L402.5,1272.6 L405.4,1288.3 L408.1,1272.6 L410.8,1288.3 L413.7,1292.3 L416.6,1261.1 L422.0,1252.7 L424.9,1284.8 L427.8,1241.5 L430.5,1280.6 L433.2,1229.4 L436.1,1308.3 L441.7,1221.3 L444.9,1285.9 L447.3,1312.3 L450.2,1261.1 L452.9,1252.7 L455.7,1276.8 L458.6,1276.8 L461.4,1260.8 L464.6,1260.8 L467.4,1280.6 L470.1,1280.6 L472.7,1237.4 L475.9,1249.1 L478.6,1225.5 L481.3,1245.4 L486.6,1217.5 L489.3,1292.3 L492.2,1280.6 L495.4,1277.1 L498.3,1252.7 L501.0,1265.1 L503.7,1265.1 L506.6,1213.8 L509.8,1236.2 L512.2,1292.3 L514.9,1284.8 L517.5,1265.1 L520.7,1280.6 L523.4,1261.4 L526.2,1237.4 L529.0,1272.6 L531.9,1265.1 L534.6,1268.8 L537.4,1260.8 L540.3,1284.8 L543.1,1280.6 L545.9,1229.4 L548.6,1288.6 L551.5,1265.1 L554.4,1272.6 L557.1,1249.1 L560.8,1257.5 L563.5,1260.8 L565.9,1261.1 L568.3,1276.8 L571.3,1268.6 L574.0,1280.7 L576.7,1281.1 L579.3,1288.7 L582.5,1292.7 L585.2,1264.6 L587.9,1300.4 L590.8,1296.7 L593.7,1288.7 L596.0,1312.2 L599.2,1319.9 L602.0,1264.6 L604.9,1272.6 L607.6,1292.7 L610.4,1272.6 L612.9,1284.7 L616.1,1280.7 L618.9,1316.4 L621.3,1292.7 L624.5,1284.7 L627.4,1268.6 L630.1,1284.7 L632.8,1296.7 L635.7,1323.9 L641.3,1288.7 L647.2,1296.7 L649.8,1308.4 L652.5,1284.7 L655.2,1284.7 L658.1,1320.2 L661.0,1284.7 L663.7,1268.6 L666.4,1296.7 L669.3,1272.6 L674.9,1300.4 L677.7,1320.2 L680.5,1284.7 L683.7,1292.4 L686.1,1320.2 L688.9,1312.2 L692.6,1308.4 L694.6,1308.4 L697.4,1300.4 L703.0,1316.4 L705.9,1308.4 L708.6,1308.7 L711.8,1312.2 L714.5,1312.2 L717.1,1292.4 L719.8,1308.4 L723.0,1296.2 L725.7,1304.2 L728.3,1316.4 L731.0,1296.2 L733.7,1316.4 L736.9,1312.2 L739.5,1331.9 L742.2,1312.2 L745.4,1300.4 L747.8,1331.9 L750.7,1308.4 L753.4,1343.9 L756.2,1343.9 L759.0,1323.9 L761.9,1323.9 L764.6,1331.9 L767.9,1327.6 L775.9,1327.6 L779.1,1308.4 L781.8,1311.9 L784.7,1323.9 L787.6,1304.2 L789.8,1308.4 L793.0,1292.4 L795.9,1308.4 L798.8,1308.4 L800.5,1296.0 L804.0,1249.0 L806.7,1300.7 L809.9,1296.4 L812.5,1324.3 L817.9,1288.4 L821.1,1288.4 L824.0,1292.7 L826.9,1304.4 L832.4,1280.4 L834.9,1315.9 L837.6,1280.4 L840.9,1327.9 L843.6,1284.7 L846.5,1292.7 L848.9,1308.2 L851.6,1292.2 L854.8,1304.4 L860.1,1296.7 L863.3,1265.0 L866.0,1287.9 L868.9,1316.3 L871.3,1291.9 L874.5,1253.1 L877.2,1304.4 L882.5,1311.9 L885.7,1288.4 L888.4,1288.4 L891.3,1296.7 L894.2,1288.4 L896.9,1276.7 L899.6,1299.9 L902.2,1307.9 L904.9,1311.9 L908.1,1319.9 L910.5,1280.4 L913.7,1280.4 L916.6,1284.2 L919.4,1308.2 L922.1,1308.2 L925.0,1292.2 L927.4,1273.0 L930.1,1265.0 L933.3,1253.1 L936.2,1257.0 L939.1,1296.7 L945.0,1272.7 L950.3,1226.2 L953.0,1276.7 L955.7,1284.7 L958.6,1233.4 L961.5,1268.7 L964.2,1273.0 L966.9,1296.7 L969.8,1237.4 L975.9,1269.5 L978.1,1327.9 L980.7,1276.7 L983.9,1276.7 L986.6,1292.7 L989.4,1288.7 L992.2,1308.2 L995.1,1292.7 L997.9,1280.7 L1001.1,1284.7 L1003.5,1304.4 L1006.3,1311.9 L1009.1,1336.0 L1011.8,1307.9 L1014.7,1319.9 L1020.8,1261.1 L1024.0,1279.9 L1028.8,1343.5 L1031.6,1315.3 L1034.5,1311.6 L1037.1,1276.5 L1040.2,1292.9 L1042.7,1319.4 L1045.9,1323.5 L1048.8,1292.4 L1051.4,1295.9 L1054.1,1276.5 L1056.9,1288.8 L1060.2,1284.7 L1063.1,1288.8 L1065.7,1295.9 L1068.4,1249.0 L1071.2,1272.9 L1073.9,1261.2 L1076.5,1264.3 L1079.4,1272.9 L1082.0,1260.6 L1085.1,1182.2 L1088.2,1268.8 L1090.8,1264.7 L1093.7,1229.6 L1096.3,1253.1 L1099.0,1225.5 L1101.8,1233.3 L1105.1,1229.6 L1107.6,1218.4 L1110.6,1213.7 L1113.3,1167.3 L1115.7,1072.4 L1118.8,1194.5 L1121.4,1174.5 L1124.3,1107.6 L1126.9,1130.6 L1130.0,1174.9 L1132.4,1151.6 L1135.7,1056.5 L1138.2,1151.0 L1141.2,1127.6 L1143.9,1154.5 L1146.7,1155.1 L1150.0,1166.7 L1152.9,1154.1 L1158.2,1099.4 L1161.0,1143.5 L1163.7,1119.0 L1166.3,1064.7 L1169.2,1182.2 L1171.8,1213.7 L1174.9,1146.9 L1177.3,1194.5 L1180.6,1174.5 L1183.5,1189.8 L1186.1,1174.1 L1188.8,1213.7 L1191.6,1178.2 L1194.3,1202.0 L1197.3,1189.8 L1200.4,1237.3 L1203.1,1213.7 L1205.9,1224.5 L1208.6,1276.9 L1211.2,1217.8 L1214.1,1233.3 L1216.7,1217.8 L1219.8,1264.7 L1222.9,1257.1 L1225.5,1316.3 L1228.4,1190.4 L1231.0,1268.8 L1233.7,1193.9 L1236.5,1284.7 L1239.2,1198.0 L1242.2,1241.4 L1245.3,1225.5 L1248.0,1296.5 L1250.4,1228.6 L1253.5,1213.7 L1256.5,1229.2 L1260.2,1243.5 L1261.7,1248.6 L1265.0,1253.1 L1267.4,1296.4 L1270.3,1210.0 L1273.1,1260.7 L1276.0,1248.9 L1281.4,1265.4 L1284.6,1261.1 L1287.1,1194.3 L1290.0,1245.7 L1292.9,1221.7 L1295.4,1234.0 L1298.3,1202.1 L1301.1,1241.7 L1304.0,1190.3 L1306.9,1217.9 L1309.7,1210.7 L1312.6,1178.3 L1315.0,1249.7 L1317.9,1221.7 L1320.7,1253.1 L1326.4,1202.1 L1329.7,1209.7 L1332.1,1265.0 L1335.0,1261.1 L1340.7,1229.3 L1343.1,1280.3 L1345.7,1280.7 L1348.9,1307.9 L1351.7,1288.3 L1354.3,1339.3 L1357.1,1339.7 L1360.0,1351.4 L1363.1,1347.1 L1366.0,1351.4" fill="none" stroke="#000" stroke-width="2.3" stroke-linejoin="round"/></g>
<rect x="80.7" y="5.8" width="1334.7" height="322.3" fill="none" stroke="#000" stroke-width="2.2"/>
<rect x="80.7" y="350.7" width="1334.7" height="321.9" fill="none" stroke="#000" stroke-width="2.2"/>
<rect x="80.7" y="697.4" width="1334.7" height="322.4" fill="none" stroke="#000" stroke-width="2.2"/>
<rect x="80.7" y="1044.7" width="1334.7" height="321.9" fill="none" stroke="#000" stroke-width="2.2"/>
<path d="M91.3,328.1 L91.3,317.7 M178.3,328.1 L178.3,317.7 M262.5,328.1 L262.5,317.7 M349.5,328.1 L349.5,317.7 M433.8,328.1 L433.8,317.7 M520.8,328.1 L520.8,317.7 M607.8,328.1 L607.8,317.7 M692.0,328.1 L692.0,317.7 M779.0,328.1 L779.0,317.7 M863.2,328.1 L863.2,317.7 M950.2,328.1 L950.2,317.7 M1037.3,328.1 L1037.3,317.7 M1115.9,328.1 L1115.9,317.7 M1202.9,328.1 L1202.9,317.7 M1287.1,328.1 L1287.1,317.7 M1374.1,328.1 L1374.1,317.7 M91.0,672.6 L91.0,662.2 M177.4,672.6 L177.4,662.2 M261.1,672.6 L261.1,662.2 M347.5,672.6 L347.5,662.2 M431.1,672.6 L431.1,662.2 M517.6,672.6 L517.6,662.2 M604.0,672.6 L604.0,662.2 M687.6,672.6 L687.6,662.2 M774.1,672.6 L774.1,662.2 M857.7,672.6 L857.7,662.2 M944.1,672.6 L944.1,662.2 M1030.6,672.6 L1030.6,662.2 M1108.6,672.6 L1108.6,662.2 M1195.0,672.6 L1195.0,662.2 M1278.7,672.6 L1278.7,662.2 M1365.1,672.6 L1365.1,662.2 M91.0,1019.8 L91.0,1009.4 M177.4,1019.8 L177.4,1009.4 M261.1,1019.8 L261.1,1009.4 M347.5,1019.8 L347.5,1009.4 M431.1,1019.8 L431.1,1009.4 M517.6,1019.8 L517.6,1009.4 M604.0,1019.8 L604.0,1009.4 M687.6,1019.8 L687.6,1009.4 M774.1,1019.8 L774.1,1009.4 M857.7,1019.8 L857.7,1009.4 M944.1,1019.8 L944.1,1009.4 M1030.6,1019.8 L1030.6,1009.4 M1108.6,1019.8 L1108.6,1009.4 M1195.0,1019.8 L1195.0,1009.4 M1278.7,1019.8 L1278.7,1009.4 M1365.1,1019.8 L1365.1,1009.4 M91.3,1366.6 L91.3,1356.2 M178.3,1366.6 L178.3,1356.2 M262.5,1366.6 L262.5,1356.2 M349.5,1366.6 L349.5,1356.2 M433.8,1366.6 L433.8,1356.2 M520.8,1366.6 L520.8,1356.2 M607.8,1366.6 L607.8,1356.2 M692.0,1366.6 L692.0,1356.2 M779.0,1366.6 L779.0,1356.2 M863.2,1366.6 L863.2,1356.2 M950.2,1366.6 L950.2,1356.2 M1037.3,1366.6 L1037.3,1356.2 M1115.9,1366.6 L1115.9,1356.2 M1202.9,1366.6 L1202.9,1356.2 M1287.1,1366.6 L1287.1,1356.2 M1374.1,1366.6 L1374.1,1356.2 M80.7,316.4 L91.1,316.4 M80.7,262.9 L91.1,262.9 M80.7,209.4 L91.1,209.4 M80.7,155.9 L91.1,155.9 M80.7,102.4 L91.1,102.4 M80.7,48.9 L91.1,48.9 M80.7,660.8 L91.1,660.8 M80.7,561.0 L91.1,561.0 M80.7,461.3 L91.1,461.3 M80.7,361.8 L91.1,361.8 M80.7,1008.2 L91.1,1008.2 M80.7,953.8 L91.1,953.8 M80.7,899.4 L91.1,899.4 M80.7,844.9 L91.1,844.9 M80.7,790.5 L91.1,790.5 M80.7,736.1 L91.1,736.1 M80.7,1355.0 L91.1,1355.0 M80.7,1263.9 L91.1,1263.9 M80.7,1172.8 L91.1,1172.8 M80.7,1081.6 L91.1,1081.6 M1415.4,306.5 L1405.0,306.5 M1415.4,206.2 L1405.0,206.2 M1415.4,105.0 L1405.0,105.0 M1415.4,661.5 L1405.0,661.5 M1415.4,601.6 L1405.0,601.6 M1415.4,541.7 L1405.0,541.7 M1415.4,481.8 L1405.0,481.8 M1415.4,421.9 L1405.0,421.9 M1415.4,362.1 L1405.0,362.1" stroke="#000" stroke-width="2.2" fill="none"/>
<text transform="translate(65.2,316.4) rotate(-90)" font-size="28" text-anchor="middle">0</text>
<text transform="translate(65.2,262.9) rotate(-90)" font-size="28" text-anchor="middle">20</text>
<text transform="translate(65.2,155.9) rotate(-90)" font-size="28" text-anchor="middle">60</text>
<text transform="translate(65.2,48.9) rotate(-90)" font-size="28" text-anchor="middle">100</text>
<text transform="translate(65.2,660.8) rotate(-90)" font-size="28" text-anchor="middle">0.5</text>
<text transform="translate(65.2,561.0) rotate(-90)" font-size="28" text-anchor="middle">1.0</text>
<text transform="translate(65.2,461.3) rotate(-90)" font-size="28" text-anchor="middle">1.5</text>
<text transform="translate(65.2,361.8) rotate(-90)" font-size="28" text-anchor="middle">2.0</text>
<text transform="translate(65.2,1008.2) rotate(-90)" font-size="28" text-anchor="middle">0</text>
<text transform="translate(65.2,953.8) rotate(-90)" font-size="28" text-anchor="middle">20</text>
<text transform="translate(65.2,899.4) rotate(-90)" font-size="28" text-anchor="middle">40</text>
<text transform="translate(65.2,844.9) rotate(-90)" font-size="28" text-anchor="middle">60</text>
<text transform="translate(65.2,790.5) rotate(-90)" font-size="28" text-anchor="middle">80</text>
<text transform="translate(65.2,736.1) rotate(-90)" font-size="28" text-anchor="middle">100</text>
<text transform="translate(65.2,1355.0) rotate(-90)" font-size="28" text-anchor="middle">0</text>
<text transform="translate(65.2,1263.9) rotate(-90)" font-size="28" text-anchor="middle">5</text>
<text transform="translate(65.2,1172.8) rotate(-90)" font-size="28" text-anchor="middle">10</text>
<text transform="translate(65.2,1081.6) rotate(-90)" font-size="28" text-anchor="middle">15</text>
<text transform="translate(1433.6,301.5) rotate(90)" font-size="28" text-anchor="middle">0.35</text>
<text transform="translate(1433.6,204.7) rotate(90)" font-size="28" text-anchor="middle">0.40</text>
<text transform="translate(1433.6,105.8) rotate(90)" font-size="28" text-anchor="middle">0.45</text>
<text transform="translate(1433.6,661.5) rotate(90)" font-size="28" text-anchor="middle">0</text>
<text transform="translate(1433.6,601.6) rotate(90)" font-size="28" text-anchor="middle">20</text>
<text transform="translate(1433.6,541.7) rotate(90)" font-size="28" text-anchor="middle">40</text>
<text transform="translate(1433.6,481.8) rotate(90)" font-size="28" text-anchor="middle">60</text>
<text transform="translate(1433.6,421.9) rotate(90)" font-size="28" text-anchor="middle">80</text>
<text transform="translate(1433.6,362.1) rotate(90)" font-size="28" text-anchor="middle">100</text>
<text transform="translate(101.3,1380.8) rotate(-90)" font-size="28" text-anchor="end">Mar</text>
<text transform="translate(187.9,1380.8) rotate(-90)" font-size="28" text-anchor="end">Apr</text>
<text transform="translate(271.7,1380.8) rotate(-90)" font-size="28" text-anchor="end">May</text>
<text transform="translate(358.3,1380.8) rotate(-90)" font-size="28" text-anchor="end">Jun</text>
<text transform="translate(442.1,1380.8) rotate(-90)" font-size="28" text-anchor="end">Jul</text>
<text transform="translate(528.7,1380.8) rotate(-90)" font-size="28" text-anchor="end">Aug</text>
<text transform="translate(615.3,1380.8) rotate(-90)" font-size="28" text-anchor="end">Sep</text>
<text transform="translate(699.1,1380.8) rotate(-90)" font-size="28" text-anchor="end">Oct</text>
<text transform="translate(785.7,1380.8) rotate(-90)" font-size="28" text-anchor="end">Nov</text>
<text transform="translate(869.5,1380.8) rotate(-90)" font-size="28" text-anchor="end">Dec</text>
<text transform="translate(956.0,1380.8) rotate(-90)" font-size="28" text-anchor="end">Jan</text>
<text transform="translate(1042.6,1380.8) rotate(-90)" font-size="28" text-anchor="end">Feb</text>
<text transform="translate(1120.9,1380.8) rotate(-90)" font-size="28" text-anchor="end">Mar</text>
<text transform="translate(1207.4,1380.8) rotate(-90)" font-size="28" text-anchor="end">Apr</text>
<text transform="translate(1291.2,1380.8) rotate(-90)" font-size="28" text-anchor="end">May</text>
<text transform="translate(1377.8,1380.8) rotate(-90)" font-size="28" text-anchor="end">Jun</text>
<text x="482.1" y="1469" font-size="37" text-anchor="middle">2020</text>
<text x="1167.6" y="1469" font-size="37" text-anchor="middle">2021</text>
<text transform="translate(27.0,166.8) rotate(-90)" font-size="37" text-anchor="middle">Incidence (per 100k)</text>
<text transform="translate(27.0,1018.6) rotate(-90)" font-size="37" text-anchor="middle">Incidence (per 100k)</text>
<text transform="translate(1470.6,160.3) rotate(90)" font-size="35.6" text-anchor="middle">Isolation index</text>
<text transform="translate(1470.6,514.8) rotate(90)" font-size="35.6" text-anchor="middle">Percent of all clades</text>
<text transform="translate(27.0,538.7) rotate(-90)" font-size="36.5">R<tspan font-size="26.5" dy="4.1">eff</tspan></text>
<text x="95.1" y="42.3" font-size="50">a</text>
<text x="101.3" y="401.9" font-size="50">b</text>
<text x="107.8" y="741.1" font-size="50">c</text>
<text x="105.1" y="1093.8" font-size="50">d</text>
<text x="197.1" y="48.3" font-size="40">All cases, all ages</text>
<text x="157.1" y="741.9" font-size="40.3">Non-severe cases, all ages</text>
<text x="152.3" y="1090" font-size="40">Severe cases, all ages</text>
<text x="709.7" y="153.2" font-size="40">Cases</text>
<text x="242.6" y="208.5" font-size="37.5" text-anchor="middle">Index of social</text>
<text x="246.9" y="253.2" font-size="37.5" text-anchor="middle">mobility</text>
<text x="329.0" y="472.5" font-size="40">Reff</text>
<text x="955.1" y="476" font-size="39.4" font-weight="bold" fill="#653a98">Zeta</text>
<text x="1122.3" y="425.3" font-size="39.7" font-weight="bold" fill="#22a77a">Gamma</text>
</svg>
</body></html>
